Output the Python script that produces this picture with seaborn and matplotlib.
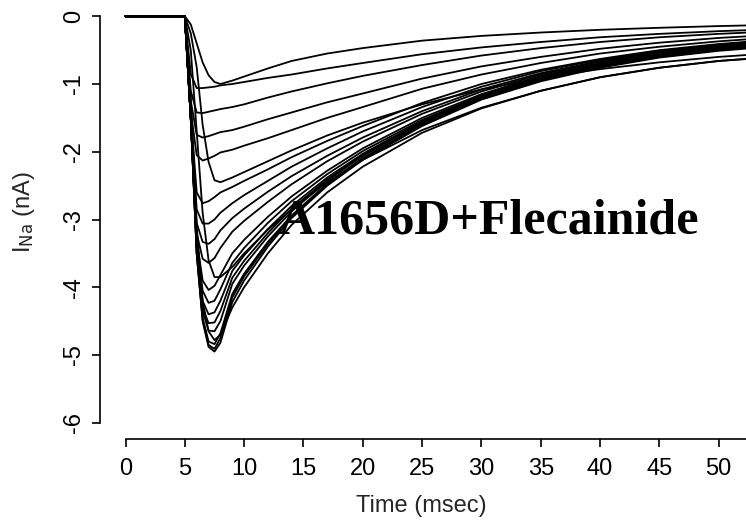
import numpy as np
import pandas as pd
import matplotlib
matplotlib.use("Agg")
import matplotlib.pyplot as plt
import seaborn as sns

# ---------------- data ----------------
time_ms = [0, 5.0, 5.5, 6.0, 6.5, 7.0, 7.5, 8.0, 9, 10, 12, 14, 17, 20, 25, 30, 35, 40, 45, 50, 55]

trace_A = [0, 0, -0.12, -0.40, -0.68, -0.87, -0.97, -1.00, -0.95, -0.89, -0.77, -0.66, -0.55, -0.47, -0.36, -0.29, -0.24, -0.20, -0.17, -0.145, -0.125]
trace_B = [0, 0, -0.85, -1.06, -1.06, -1.05, -1.04, -1.02, -1.00, -0.97, -0.91, -0.86, -0.77, -0.69, -0.56, -0.46, -0.38, -0.31, -0.26, -0.22, -0.19]
trace_C = [0, 0, -1.10, -1.42, -1.43, -1.41, -1.39, -1.37, -1.34, -1.30, -1.20, -1.11, -0.99, -0.88, -0.72, -0.58, -0.47, -0.38, -0.31, -0.26, -0.22]
trace_D = [0, 0, -1.25, -1.75, -1.79, -1.77, -1.74, -1.71, -1.68, -1.63, -1.52, -1.42, -1.27, -1.14, -0.92, -0.74, -0.60, -0.48, -0.39, -0.32, -0.27]
trace_E = [0, 0, -1.40, -2.05, -2.13, -2.10, -2.06, -2.01, -1.97, -1.91, -1.80, -1.68, -1.50, -1.34, -1.07, -0.86, -0.69, -0.55, -0.45, -0.37, -0.31]
trace_F = [0, 0, -0.25, -0.75, -1.60, -2.15, -2.42, -2.45, -2.38, -2.30, -2.14, -1.98, -1.76, -1.57, -1.30, -1.08, -0.91, -0.78, -0.68, -0.60, -0.54]
trace_G = [0, 0, -1.45, -2.60, -2.76, -2.73, -2.67, -2.60, -2.52, -2.43, -2.26, -2.08, -1.84, -1.62, -1.28, -1.00, -0.79, -0.63, -0.50, -0.41, -0.34]
trace_H = [0, 0, -1.50, -2.85, -3.06, -3.06, -3.00, -2.90, -2.76, -2.64, -2.43, -2.22, -1.95, -1.70, -1.34, -1.04, -0.81, -0.64, -0.51, -0.42, -0.35]
trace_I = [0, 0, -1.50, -3.05, -3.33, -3.36, -3.29, -3.16, -2.98, -2.84, -2.59, -2.36, -2.06, -1.79, -1.40, -1.08, -0.84, -0.66, -0.52, -0.43, -0.36]
trace_J = [0, 0, -1.50, -3.20, -3.58, -3.64, -3.57, -3.42, -3.18, -3.02, -2.74, -2.48, -2.14, -1.85, -1.44, -1.11, -0.86, -0.67, -0.53, -0.43, -0.36]
trace_V = [0, 0, -0.50, -1.70, -2.90, -3.60, -3.85, -3.85, -3.70, -3.50, -3.15, -2.85, -2.45, -2.12, -1.68, -1.35, -1.10, -0.90, -0.76, -0.66, -0.59]
trace_K = [0, 0, -1.50, -3.30, -3.90, -4.04, -3.98, -3.82, -3.50, -3.30, -2.96, -2.66, -2.28, -1.95, -1.50, -1.15, -0.88, -0.69, -0.54, -0.44, -0.37]
trace_L = [0, 0, -1.50, -3.35, -4.05, -4.23, -4.20, -4.03, -3.64, -3.42, -3.05, -2.73, -2.33, -1.99, -1.53, -1.17, -0.90, -0.70, -0.55, -0.45, -0.38]
trace_M = [0, 0, -1.50, -3.40, -4.20, -4.40, -4.37, -4.20, -3.76, -3.53, -3.14, -2.80, -2.38, -2.03, -1.55, -1.18, -0.91, -0.71, -0.56, -0.46, -0.39]
trace_N = [0, 0, -1.50, -3.40, -4.30, -4.53, -4.52, -4.35, -3.86, -3.61, -3.20, -2.84, -2.41, -2.05, -1.56, -1.19, -0.92, -0.72, -0.57, -0.47, -0.40]
trace_O = [0, 0, -1.50, -3.45, -4.35, -4.64, -4.65, -4.50, -3.95, -3.68, -3.25, -2.88, -2.43, -2.06, -1.57, -1.20, -0.93, -0.73, -0.58, -0.48, -0.41]
trace_W = [0, 0, -1.20, -3.10, -4.20, -4.65, -4.78, -4.70, -4.30, -4.00, -3.50, -3.08, -2.60, -2.22, -1.72, -1.36, -1.10, -0.90, -0.76, -0.66, -0.60]
trace_Q = [0, 0, -1.50, -3.50, -4.45, -4.80, -4.84, -4.68, -4.10, -3.80, -3.33, -2.94, -2.47, -2.09, -1.59, -1.21, -0.94, -0.74, -0.59, -0.49, -0.42]
trace_R = [0, 0, -1.50, -3.50, -4.48, -4.85, -4.91, -4.75, -4.15, -3.84, -3.36, -2.96, -2.49, -2.10, -1.60, -1.22, -0.95, -0.75, -0.60, -0.50, -0.43]
trace_S = [0, 0, -1.50, -3.50, -4.50, -4.88, -4.95, -4.82, -4.22, -3.90, -3.40, -2.98, -2.50, -2.12, -1.62, -1.23, -0.96, -0.76, -0.61, -0.51, -0.44]

x_ticks = [0, 5, 10, 15, 20, 25, 30, 35, 40, 45, 50]
y_ticks = [0, -1, -2, -3, -4, -5, -6]
x_label = "Time (msec)"
y_label = r"I$_{\mathrm{Na}}$ (nA)"
annotation = "A1656D+Flecainide"

# ---------------- build long-form table ----------------
all_traces = [trace_A, trace_B, trace_C, trace_D, trace_E, trace_F, trace_G,
              trace_H, trace_I, trace_J, trace_V, trace_K, trace_L, trace_M,
              trace_N, trace_O, trace_W, trace_Q, trace_R, trace_S]
names = list("ABCDEFGHIJVKLMNOWQRS")
df = pd.DataFrame({
    "time": np.tile(time_ms, len(all_traces)),
    "current": np.concatenate([np.asarray(t, float) for t in all_traces]),
    "trace": np.repeat(names, len(time_ms)),
})

# ---------------- style ----------------
sns.set_style("ticks")
plt.rcParams["font.family"] = ["Liberation Sans", "DejaVu Sans"]
plt.rcParams["mathtext.default"] = "regular"
plt.rcParams["axes.unicode_minus"] = False

W, H, DPI = 746, 525, 100
fig = plt.figure(figsize=(W / DPI, H / DPI), dpi=DPI)
ax = fig.add_axes([100 / W, 1 - 439 / H, 1 - 100 / W, 439 / H])

sns.lineplot(data=df, x="time", y="current", units="trace", estimator=None,
             sort=False, color="black", lw=1.3, legend=False, ax=ax)

ax.set_xlim(-2.15, 52.3)
ax.set_ylim(-6.24, 0.24)
ax.set_xticks(x_ticks)
ax.set_yticks(y_ticks)
ax.set_yticklabels([str(v) for v in y_ticks])

for side in ("top", "right"):
    ax.spines[side].set_visible(False)
ax.spines["left"].set_bounds(-6, 0)
ax.spines["bottom"].set_bounds(0, 52.3)
for side in ("left", "bottom"):
    ax.spines[side].set_linewidth(1.2)
    ax.spines[side].set_color("black")

ax.tick_params(axis="both", direction="out", length=6, width=1.2, color="black",
               labelsize=17, pad=5, labelcolor="black")
ax.tick_params(axis="x", pad=7.5)
ax.tick_params(axis="y", labelrotation=90)
for lab in ax.get_yticklabels():
    lab.set_va("center")

ax.set_xlabel(x_label, fontsize=17)
ax.set_ylabel(y_label, fontsize=17)
ax.xaxis.set_label_coords((421 - 100) / 646, -0.128)
ax.yaxis.set_label_coords(-0.0975, 0.517)

ax.text((278 - 125.5) / 11.86, -3.2, annotation, fontsize=36, fontweight="bold",
        family=["Liberation Serif", "DejaVu Serif"], ha="left", va="baseline",
        color="black", zorder=10)

ax.grid(False)
fig.savefig("out.png", dpi=DPI)
